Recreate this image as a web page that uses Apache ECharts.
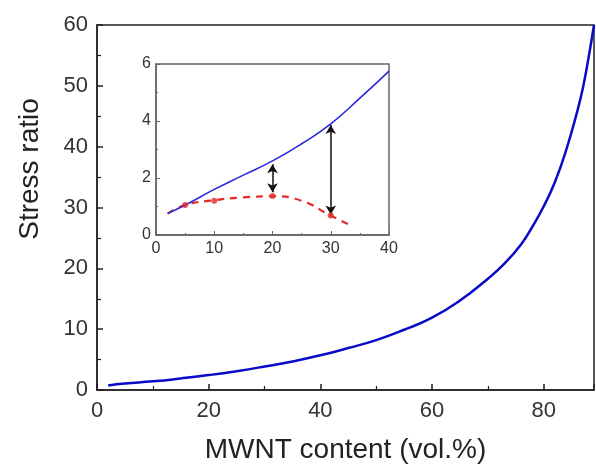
<!DOCTYPE html>
<html>
<head>
<meta charset="utf-8">
<script src="https://cdn.jsdelivr.net/npm/echarts@6/dist/echarts.min.js"></script>
<style>
html,body{margin:0;padding:0;background:#fff;}
#chart{width:596px;height:469px;}
</style>
</head>
<body>
<div id="chart"></div>
<script>
// Main curve: MWNT content (vol.%) vs stress ratio
var mainX = [2, 5, 10, 15, 20, 25, 30, 35, 40, 45, 50, 55, 60, 65, 70, 73, 76, 78, 80, 82, 84, 86, 87, 88, 89];
var mainY = [0.75, 1.05, 1.42, 1.9, 2.45, 3.1, 3.86, 4.7, 5.7, 6.9, 8.2, 9.9, 11.9, 14.7, 18.3, 20.8, 24.0, 26.9, 30.2, 34.2, 39.4, 45.8, 49.6, 54.5, 60.0];
// Inset: blue curve
var insetBlueX = [2, 5, 10, 15, 20, 25, 30, 35, 40];
var insetBlueY = [0.75, 1.05, 1.6, 2.1, 2.6, 3.2, 3.9, 4.8, 5.75];
// Inset: red dashed curve
var insetRedX = [2, 5, 10, 15, 20, 25, 30, 33];
var insetRedY = [0.75, 1.05, 1.22, 1.32, 1.36, 1.2, 0.68, 0.38];
// Inset: red markers
var markX = [5, 10, 20, 30];
var markY = [1.05, 1.2, 1.37, 0.68];
// Inset: double arrows
var arrowX = [20, 30];
var arrowLow = [1.5, 0.72];
var arrowHigh = [2.48, 3.86];
// Tick labels
var mainXTicks = [0, 20, 40, 60, 80];
var mainYTicks = [0, 10, 20, 30, 40, 50, 60];

function pairs(xs, ys){ return xs.map(function(x,i){ return [x, ys[i]]; }); }

var chart = echarts.init(document.getElementById('chart'), null, {renderer:'canvas'});
var fontFam = '"Liberation Sans", Arial, sans-serif';

var arrowData = arrowX.map(function(x,i){
  return [{coord:[x, arrowLow[i]]},{coord:[x, arrowHigh[i]]}];
});

chart.setOption({
  backgroundColor:'#fff',
  animation:false,
  grid:[
    {left:97, right:2, top:25, bottom:76, show:true, borderColor:'#222', borderWidth:1.5, backgroundColor:'transparent'},
    {left:156, top:64, width:233, height:171, show:true, borderColor:'#666', borderWidth:1.5, backgroundColor:'#fff'}
  ],
  xAxis:[
    {gridIndex:0, type:'value', min:0, max:89, interval:20,
     name:'MWNT content (vol.%)', nameLocation:'middle', nameGap:46,
     nameTextStyle:{fontSize:28, color:'#222', fontFamily:fontFam},
     axisLine:{lineStyle:{color:'#222', width:1.5}},
     axisTick:{inside:true, length:6, lineStyle:{color:'#222', width:1.5}},
     minorTick:{show:true, splitNumber:2, length:4, lineStyle:{color:'#222', width:1.2}},
     axisLabel:{fontSize:22, color:'#333', fontFamily:fontFam, margin:10, showMaxLabel:false,
       formatter:function(v){ return mainXTicks.indexOf(v) >= 0 ? String(v) : ''; }},
     splitLine:{show:false}},
    {gridIndex:1, type:'value', min:0, max:40, interval:10,
     axisLine:{lineStyle:{color:'#666', width:1.5}},
     axisTick:{inside:true, length:4, lineStyle:{color:'#666'}},
     minorTick:{show:true, splitNumber:2, length:2, lineStyle:{color:'#666'}},
     axisLabel:{fontSize:16, color:'#333', fontFamily:fontFam, margin:6},
     splitLine:{show:false}}
  ],
  yAxis:[
    {gridIndex:0, type:'value', min:0, max:60, interval:10,
     axisLine:{lineStyle:{color:'#222', width:1.5}},
     axisTick:{inside:true, length:6, lineStyle:{color:'#222', width:1.5}},
     minorTick:{show:true, splitNumber:2, length:4, lineStyle:{color:'#222', width:1.2}},
     axisLabel:{fontSize:22, color:'#333', fontFamily:fontFam, margin:9,
       formatter:function(v){ return mainYTicks.indexOf(v) >= 0 ? String(v) : ''; }},
     splitLine:{show:false}},
    {gridIndex:1, type:'value', min:0, max:6, interval:2,
     axisLine:{lineStyle:{color:'#666', width:1.5}},
     axisTick:{inside:true, length:4, lineStyle:{color:'#666'}},
     minorTick:{show:true, splitNumber:2, length:2, lineStyle:{color:'#666'}},
     axisLabel:{fontSize:16, color:'#333', fontFamily:fontFam, margin:5},
     splitLine:{show:false}}
  ],
  graphic:[
    {type:'text', rotation:Math.PI/2, position:[30,169], z:100,
     style:{text:'Stress ratio', fontSize:28, fill:'#222', fontFamily:fontFam,
            textAlign:'center', textVerticalAlign:'middle', x:0, y:0}}
  ],
  series:[
    {type:'line', xAxisIndex:0, yAxisIndex:0, data:pairs(mainX, mainY), smooth:0.5,
     showSymbol:false, symbol:'none', lineStyle:{color:'#0a0ac8', width:2.5}, z:2},
    {type:'line', xAxisIndex:1, yAxisIndex:1, data:pairs(insetRedX, insetRedY), smooth:0.5,
     symbol:'none', lineStyle:{color:'#e52828', width:2.2, type:[7,6]}, z:3},
    {type:'line', xAxisIndex:1, yAxisIndex:1, data:pairs(insetBlueX, insetBlueY), smooth:0.5,
     symbol:'none', lineStyle:{color:'#2a2ae0', width:1.6}, z:4,
     markLine:{silent:true, symbol:['arrow','arrow'], symbolSize:[8,9], precision:3,
       lineStyle:{color:'#111', width:1.5, type:'solid'}, label:{show:false},
       data:arrowData}},
    {type:'scatter', xAxisIndex:1, yAxisIndex:1, data:pairs(markX, markY), symbol:'circle',
     symbolSize:6, itemStyle:{color:'#e52828'}, z:5}
  ]
});
</script>
</body>
</html>
